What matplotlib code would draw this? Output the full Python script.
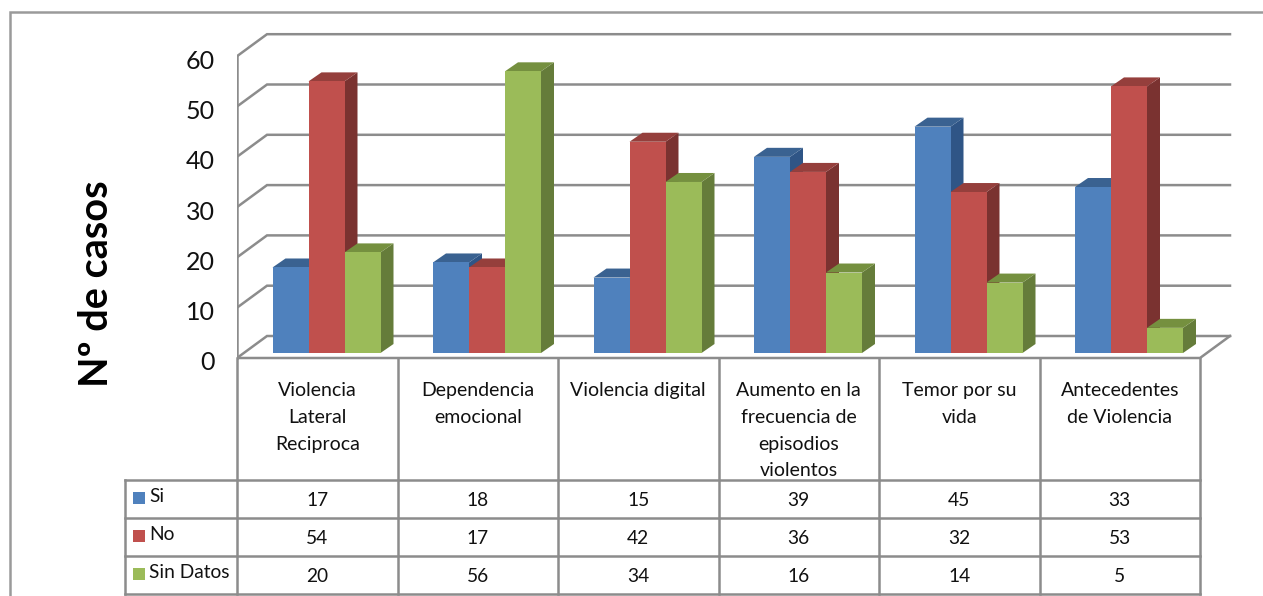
import matplotlib
matplotlib.use("Agg")
import matplotlib.pyplot as plt
from matplotlib.patches import Polygon, Rectangle
from matplotlib.transforms import ScaledTranslation

plt.rcParams["font.family"] = ["Lato", "DejaVu Sans"]

# ─── Data ─────────────────────────────────────────────────────────────
CATEGORIES = [
    "Violencia\nLateral\nReciproca",
    "Dependencia\nemocional",
    "Violencia digital",
    "Aumento en la\nfrecuencia de\nepisodios\nviolentos",
    "Temor por su\nvida",
    "Antecedentes\nde Violencia",
]
SERIES = ["Si", "No", "Sin Datos"]
SI = [17, 18, 15, 39, 45, 33]
NO = [54, 17, 42, 36, 32, 53]
SIN_DATOS = [20, 56, 34, 16, 14, 5]
Y_TICKS = [0, 10, 20, 30, 40, 50, 60]

# ─── Style ────────────────────────────────────────────────────────────
W, H = 1263, 596
GRID = "#8c8c8c"
# front, top, side
COLORS = [
    ("#4F81BD", "#3A6291", "#2F5586"),
    ("#C0504D", "#953F3C", "#7A3230"),
    ("#9BBB59", "#75903F", "#657C3A"),
]

# chart geometry in pixels
LEFT, RIGHT = 237, 1200
FRONT_Y, BACK_Y = 358, 336
BAR_Y = 353
DX = 30
PX_PER_CASE = 5.03
PX_PER_CAT = (RIGHT - LEFT) / 6

fig = plt.figure(figsize=(W / 100, H / 100), dpi=100)

# page overlay in pixels: frame and table
page = fig.add_axes([0, 0, 1, 1], zorder=1)
page.set_xlim(0, W)
page.set_ylim(H, 0)
page.axis("off")

# chart axes: x in categories, y in cases (0 at the bars' foot)
top_px, bottom_px = 20, 370
ax = fig.add_axes([LEFT / W, 1 - bottom_px / H,
                   (W - LEFT) / W, (bottom_px - top_px) / H], zorder=2)
ax.set_xlim(0, (W - LEFT) / PX_PER_CAT)
ax.set_ylim((BAR_Y - bottom_px) / PX_PER_CASE, (BAR_Y - top_px) / PX_PER_CASE)
ax.patch.set_alpha(0)
for s in ax.spines.values():
    s.set_visible(False)
ax.set_xticks([])

front_off = (BAR_Y - FRONT_Y) / PX_PER_CASE
back_off = (BAR_Y - BACK_Y) / PX_PER_CASE
dx_cat = DX / PX_PER_CAT

ax.set_yticks([v + front_off for v in Y_TICKS])
ax.set_yticklabels([str(v) for v in Y_TICKS], fontsize=18, color="#111111")
ax.tick_params(axis="y", length=0, pad=24)
shift = ScaledTranslation(11 / 100, -3 / 100, fig.dpi_scale_trans)
for lab in ax.get_yticklabels():
    lab.set_transform(lab.get_transform() + shift)

# back wall, side wall and floor
for v in Y_TICKS:
    ax.plot([0, dx_cat, 6 + dx_cat], [v + front_off, v + back_off, v + back_off],
            color=GRID, lw=1.8, solid_joinstyle="miter", zorder=1)
ax.plot([0, 0], [front_off, 60 + front_off], color=GRID, lw=1.8, zorder=1)
ax.plot([0, 6, 6 + dx_cat], [front_off, front_off, back_off], color=GRID, lw=1.8, zorder=1)

# bars
bar_w = 36 / PX_PER_CAT
inset = 35.5 / PX_PER_CAT
depth_x = 13 / PX_PER_CAT
depth_y = 9 / PX_PER_CASE
z = 3
for i in range(6):
    for j, vals in enumerate([SI, NO, SIN_DATOS]):
        v = vals[i]
        x0 = i + inset + j * bar_w
        x1 = x0 + bar_w
        front, top, side = COLORS[j]
        ax.add_patch(Polygon([(x1, 0), (x1 + depth_x, depth_y), (x1 + depth_x, v + depth_y), (x1, v)],
                             closed=True, fc=side, ec="none", zorder=z))
        ax.add_patch(Polygon([(x0, v), (x0 + depth_x, v + depth_y), (x1 + depth_x, v + depth_y), (x1, v)],
                             closed=True, fc=top, ec="none", zorder=z))
        ax.add_patch(Rectangle((x0, 0), bar_w, v, fc=front, ec="none", zorder=z + 0.5))
        z += 1

ax.set_ylabel("Nº de casos", fontsize=28.5, fontweight="bold", color="black", labelpad=0)
ax.yaxis.set_label_coords((115 - LEFT) / (W - LEFT), (bottom_px - 284) / (bottom_px - top_px))

# outer frame
page.plot([9.5, 9.5, W], [H, 11.5, 11.5], color="#9a9a9a", lw=1.8, solid_joinstyle="miter")

# data table
TBL_LEFT = 125
ROWS_Y = [480, 518, 556, 594]
cols = [LEFT + k * PX_PER_CAT for k in range(7)]
line = dict(color=GRID, lw=1.8, solid_capstyle="projecting")
for x in cols:
    page.plot([x, x], [FRONT_Y, ROWS_Y[-1]], **line)
page.plot([TBL_LEFT, TBL_LEFT], [ROWS_Y[0], ROWS_Y[-1]], **line)
for y in ROWS_Y:
    page.plot([TBL_LEFT, RIGHT], [y, y], **line)

for k, name in enumerate(CATEGORIES):
    page.text(cols[k] + PX_PER_CAT / 2, 382, name, ha="center", va="top",
              fontsize=14, linespacing=1.7, color="#111111")

for r, (name, vals) in enumerate(zip(SERIES, [SI, NO, SIN_DATOS])):
    yc = (ROWS_Y[r] + ROWS_Y[r + 1]) / 2
    page.add_patch(Rectangle((133, yc - 6 - 1), 12, 12, fc=COLORS[r][0], ec="none"))
    page.text(149, yc - 2, name, ha="left", va="center", fontsize=13.8, color="#111111")
    for k, v in enumerate(vals):
        page.text(cols[k] + PX_PER_CAT / 2, yc + 1, str(v), ha="center", va="center",
                  fontsize=13.8, color="#111111")

fig.savefig("out.png", dpi=100)
